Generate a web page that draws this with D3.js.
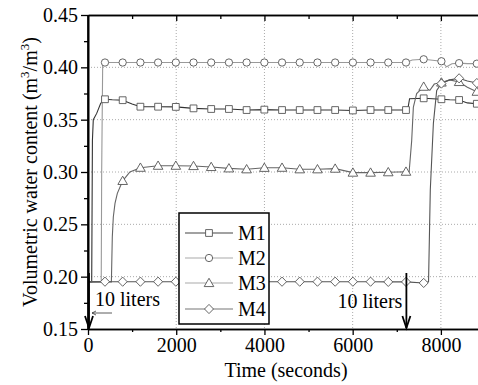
<!DOCTYPE html>
<html><head><meta charset="utf-8">
<script src="https://cdn.jsdelivr.net/npm/d3@7"></script>
<style>
body{margin:0;background:#fff;}
svg{display:block;font-family:"Liberation Serif","Times New Roman",serif;}
</style></head>
<body>
<svg id="c" width="478" height="385"></svg>
<script>
// ---- data ----
const seriesNames = ["M1","M2","M3","M4"];
const markerTimes = [385,786,1188,1589,1991,2392,2793,3195,3596,3998,4399,4800,5202,5603,6005,6406,6807,7209,7610,8012,8413,8815];
const m1 = [[0,0.195],[84,0.195],[100,0.33],[120,0.350],[197,0.356],[288,0.3656],[385,0.3695],[550,0.369],[786,0.3686],[1000,0.365],[1188,0.3624],[1589,0.3624],[1991,0.3622],[2392,0.3608],[2793,0.3602],[3195,0.3602],[3596,0.3592],[3998,0.3596],[4399,0.3592],[4800,0.3592],[5202,0.3592],[5603,0.3592],[6005,0.3588],[6406,0.3592],[6807,0.3592],[7209,0.3592],[7250,0.360],[7290,0.3700],[7610,0.3704],[8012,0.3695],[8200,0.369],[8413,0.3688],[8600,0.366],[8815,0.3652]];
const m2 = [[0,0.195],[300,0.195],[310,0.30],[333,0.404],[385,0.4046],[786,0.4046],[1188,0.4046],[1589,0.4046],[1991,0.4046],[2392,0.4046],[2793,0.4046],[3195,0.4046],[3596,0.4046],[3998,0.4046],[4399,0.4046],[4800,0.4046],[5202,0.4046],[5603,0.4046],[6005,0.4046],[6406,0.4046],[6807,0.4046],[7209,0.4046],[7350,0.4070],[7610,0.4077],[8012,0.4058],[8130,0.4005],[8250,0.4035],[8413,0.4040],[8600,0.4035],[8815,0.4035]];
const m3 = [[0,0.195],[530,0.195],[551,0.238],[574,0.257],[612,0.270],[665,0.2796],[786,0.2915],[950,0.300],[1188,0.3041],[1589,0.3060],[1991,0.3060],[2392,0.3057],[2793,0.3048],[3195,0.3035],[3596,0.3026],[3998,0.3040],[4399,0.3041],[4800,0.3026],[5202,0.3026],[5603,0.3032],[6005,0.2994],[6406,0.2994],[6807,0.2998],[7209,0.3003],[7280,0.300],[7338,0.330],[7376,0.362],[7451,0.375],[7610,0.3815],[7750,0.378],[7850,0.384],[8012,0.3855],[8200,0.388],[8413,0.386],[8600,0.381],[8815,0.3767]];
const m4 = [[0,0.195],[385,0.1952],[786,0.1952],[1188,0.1952],[1589,0.1952],[1991,0.1952],[2392,0.1952],[2793,0.1952],[3195,0.1952],[3596,0.1952],[3998,0.1952],[4399,0.1952],[4800,0.1952],[5202,0.1952],[5603,0.1952],[6005,0.1952],[6406,0.1952],[6807,0.1950],[7209,0.1950],[7610,0.1940],[7720,0.195],[7745,0.250],[7760,0.283],[7830,0.3465],[7905,0.378],[8012,0.3845],[8200,0.388],[8413,0.3895],[8600,0.387],[8815,0.385]];
const seriesData = [m1,m2,m3,m4];
const xMajorTicks = [0,2000,4000,6000,8000];
const xMinorTicks = [1000,3000,5000,7000,9000];
const yMajorTicks = [0.15,0.20,0.25,0.30,0.35,0.40,0.45];
const yMinorTicks = [0.175,0.225,0.275,0.325,0.375,0.425];
const gridX = [2000,4000,6000,8000];
const gridY = [0.20,0.25,0.30,0.35,0.40];
const arrowTimes = [0,7218];
const arrowLabel = "10 liters";

// ---- layout ----
const svg = d3.select("#c");
const L = 88, R = 485, T = 15, B = 329;
const x = d3.scaleLinear().domain([0,9000]).range([L,R]);
const y = d3.scaleLinear().domain([0.15,0.45]).range([B,T]);

svg.append("defs").append("clipPath").attr("id","clip")
  .append("rect").attr("x",L).attr("y",T).attr("width",R-L).attr("height",B-T);

// grid
const grid = svg.append("g").attr("stroke","#aaa").attr("stroke-width",1).attr("stroke-dasharray","1,2");
grid.selectAll(".gx").data(gridX).join("line")
  .attr("x1",d=>x(d)).attr("x2",d=>x(d)).attr("y1",T).attr("y2",B);
grid.selectAll(".gy").data(gridY).join("line")
  .attr("x1",L).attr("x2",R).attr("y1",d=>y(d)).attr("y2",d=>y(d));

// lines
const lineColors = ["#333","#999","#666","#555"];
const legendLineColors = ["#444","#aaa","#aaa","#777"];
const line = d3.line().x(d=>x(d[0])).y(d=>y(d[1]));
const plot = svg.append("g").attr("clip-path","url(#clip)");
seriesData.forEach((s,i)=>{
  plot.append("path").datum(s).attr("d",line).attr("fill","none")
    .attr("stroke",lineColors[i]).attr("stroke-width",1.1);
});

// markers
const sym = [d3.symbolSquare, d3.symbolCircle, d3.symbolTriangle, d3.symbolDiamond];
const symSize = [46, 42, 40, 44];
function drawMarker(g, i, cx, cy){
  let path;
  if(i===3){
    const w=4.5,h=4.6;
    path = `M${cx},${cy-h}L${cx+w},${cy}L${cx},${cy+h}L${cx-w},${cy}Z`;
    return g.append("path").attr("d",path);
  }
  return g.append("path").attr("d",d3.symbol().type(sym[i]).size(symSize[i])())
    .attr("transform",`translate(${cx},${cy + (i===2?0.8:0)})`);
}
seriesData.forEach((s,i)=>{
  const g = plot.append("g").attr("fill","#fff").attr("stroke","#555").attr("stroke-width",0.9);
  s.filter(d=>markerTimes.includes(d[0])).forEach(d=>drawMarker(g,i,x(d[0]),y(d[1])));
});

// axes
const font = 20;
const axL = svg.append("g").attr("transform",`translate(${L},0)`)
  .call(d3.axisLeft(y).tickValues(yMajorTicks).tickFormat(d3.format(".2f")).tickSize(7).tickSizeOuter(0));
svg.append("g").attr("transform",`translate(${L},0)`)
  .call(d3.axisLeft(y).tickValues(yMinorTicks).tickFormat("").tickSize(4).tickSizeOuter(0));
const axB = svg.append("g").attr("transform",`translate(0,${B})`)
  .call(d3.axisBottom(x).tickValues(xMajorTicks).tickFormat(d3.format("d")).tickSize(6).tickSizeOuter(0));
svg.append("g").attr("transform",`translate(0,${B})`)
  .call(d3.axisBottom(x).tickValues(xMinorTicks).tickFormat("").tickSize(3).tickSizeOuter(0));
svg.append("g").attr("transform",`translate(0,${T})`)
  .call(d3.axisBottom(x).tickValues(xMajorTicks.slice(1)).tickFormat("").tickSize(6).tickSizeOuter(0));
svg.append("g").attr("transform",`translate(0,${T})`)
  .call(d3.axisBottom(x).tickValues(xMinorTicks).tickFormat("").tickSize(4).tickSizeOuter(0));
svg.selectAll(".domain").attr("stroke","#000").attr("stroke-width",1.6);
svg.selectAll(".tick line").attr("stroke","#000").attr("stroke-width",1.3);
svg.selectAll(".tick text").attr("font-family","Liberation Serif").attr("font-size",font).attr("fill","#000");
axL.selectAll(".tick text").attr("x",-10);
axB.selectAll(".tick text").attr("y",9);
// left axis line full height & top axis line full width
svg.append("line").attr("x1",L).attr("x2",L).attr("y1",T).attr("y2",B).attr("stroke","#000").attr("stroke-width",1.6);

// axis titles
svg.append("text").attr("x",(L+R)/2 - 0).attr("y",377).attr("text-anchor","middle")
  .attr("font-size",font).text("Time (seconds)")
  .attr("x",286);
const yl = svg.append("text").attr("transform","translate(37,172) rotate(-90)")
  .attr("text-anchor","middle").attr("font-size",font);
yl.append("tspan").text("Volumetric water content (m");
yl.append("tspan").attr("dy",-8).attr("font-size",13).text("3");
yl.append("tspan").attr("dy",8).text("/m");
yl.append("tspan").attr("dy",-8).attr("font-size",13).text("3");
yl.append("tspan").attr("dy",8).text(")");

// arrows
const arrowTop = 273;
arrowTimes.forEach((t,i)=>{
  const ax = x(t) + (i===0?1:0);
  const g = svg.append("g").attr("stroke","#000").attr("fill","none").attr("stroke-width",1.8);
  g.append("line").attr("x1",ax).attr("x2",ax).attr("y1",arrowTop).attr("y2",B-1);
  g.append("path").attr("d",`M${ax-4},${B-13}L${ax},${B-1}L${ax+4},${B-13}`);
});
// small leftward arrow near first label
const sa = svg.append("g").attr("stroke","#333").attr("fill","none").attr("stroke-width",0.8);
sa.append("line").attr("x1",x(0)+4).attr("x2",x(0)+24).attr("y1",313).attr("y2",313);
sa.append("path").attr("d",`M${x(0)+8},${311}L${x(0)+4},${313}L${x(0)+8},${315}`);
svg.append("text").attr("x",95).attr("y",306).attr("font-size",font).text(arrowLabel);
svg.append("text").attr("x",x(arrowTimes[1])-4).attr("y",308).attr("text-anchor","end").attr("font-size",font).text(arrowLabel);

// legend
const lg = svg.append("g");
lg.append("rect").attr("x",179).attr("y",213).attr("width",90).attr("height",111)
  .attr("fill","#fff").attr("stroke","#000").attr("stroke-width",1.5);
const legY = [233,258,283,309];
seriesNames.forEach((n,i)=>{
  lg.append("line").attr("x1",185).attr("x2",233).attr("y1",legY[i]).attr("y2",legY[i])
    .attr("stroke",legendLineColors[i]).attr("stroke-width",1.1);
  const g = lg.append("g").attr("fill","#fff").attr("stroke","#555").attr("stroke-width",0.9);
  drawMarker(g,i,209,legY[i]);
  lg.append("text").attr("x",238).attr("y",legY[i]+7).attr("font-size",font).text(n);
});
</script>
</body></html>
